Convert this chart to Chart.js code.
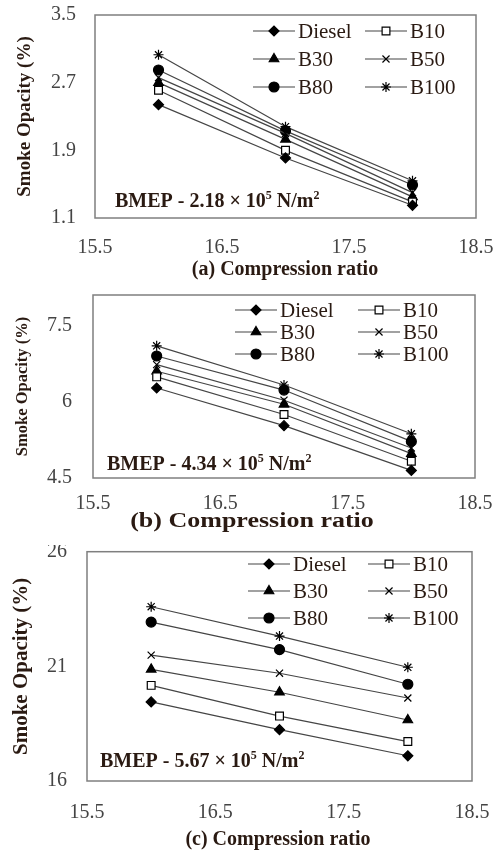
<!DOCTYPE html>
<html>
<head>
<meta charset="utf-8">
<script src="https://cdn.jsdelivr.net/npm/chart.js@4/dist/chart.umd.min.js"></script>
<style>
  body { margin: 0; background: #fff; }
  .panel { position: absolute; left: 0; width: 493px; }
  canvas { display: block; }
</style>
</head>
<body>
<div class="panel" style="top:0px"><canvas id="chart-a" width="493" height="285"></canvas></div>
<div class="panel" style="top:285px"><canvas id="chart-b" width="493" height="260"></canvas></div>
<div class="panel" style="top:545px"><canvas id="chart-c" width="493" height="306"></canvas></div>
<script>

// compression ratios tested
const compressionRatio = [16, 17, 18];
const seriesNames = ['Diesel', 'B10', 'B30', 'B50', 'B80', 'B100'];
const xTicks = [15.5, 16.5, 17.5, 18.5];

// smoke opacity (%), one row per fuel
const opacityA = [
   [2.44, 1.81, 1.25],  // Diesel
   [2.61, 1.90, 1.29],  // B10
   [2.70, 2.03, 1.35],  // B30
   [2.76, 2.10, 1.40],  // B50
   [2.85, 2.13, 1.49],  // B80
   [3.03, 2.18, 1.54]   // B100
];
const opacityB = [
   [6.27, 5.53, 4.65],
   [6.49, 5.75, 4.83],
   [6.60, 5.95, 4.98],
   [6.73, 6.03, 5.09],
   [6.90, 6.23, 5.22],
   [7.10, 6.33, 5.37]
];
const opacityC = [
   [19.45, 18.24, 17.10],
   [20.17, 18.83, 17.72],
   [20.87, 19.87, 18.66],
   [21.49, 20.70, 19.62],
   [22.93, 21.73, 20.22],
   [23.60, 22.32, 20.96]
];

const yTicksA = [1.1, 1.9, 2.7, 3.5];
const yTicksB = [4.5, 6, 7.5];
const yTicksC = [16, 21, 26];

const bmepValues = ['2.18', '4.34', '5.67'];
const xTitles = ['(a) Compression ratio', '(b) Compression ratio', '(c) Compression ratio'];
const yTitle = 'Smoke Opacity (%)';

const markers = [
   { style: 'rectRot', radius: 5, fill: '#000' },
   { style: 'rect', radius: 5.5, fill: '#fff' },
   { style: 'triangle', radius: 5.5, fill: '#000' },
   { style: 'crossRot', radius: 5, fill: '#000' },
   { style: 'circle', radius: 5, fill: '#000' },
   { style: 'star', radius: 5, fill: '#000' }
];

const textColor = '#2a1a12';
const tickColor = '#444';
const serif = '"Liberation Serif", "DejaVu Serif", serif';

// box round the plot area
const framePlugin = {
   id: 'frame',
   beforeDatasetsDraw(chart) {
      const a = chart.chartArea;
      const ctx = chart.ctx;
      ctx.save();
      ctx.strokeStyle = '#7f7f7f';
      ctx.lineWidth = 1.5;
      ctx.strokeRect(a.left, a.top, a.right - a.left, a.bottom - a.top);
      ctx.restore();
   }
};

// two-column legend inside the plot
const gridLegend = {
   id: 'gridLegend',
   afterDraw(chart, args, o) {
      const ctx = chart.ctx;
      ctx.save();
      chart.data.datasets.forEach((ds, i) => {
         const x0 = (i % 2) ? o.x2 : o.x1;
         const y = o.y0 + Math.floor(i / 2) * o.dy;
         ctx.strokeStyle = ds.borderColor;
         ctx.lineWidth = ds.borderWidth;
         ctx.beginPath();
         ctx.moveTo(x0, y);
         ctx.lineTo(x0 + o.len, y);
         ctx.stroke();
         ctx.fillStyle = ds.pointBackgroundColor;
         ctx.strokeStyle = ds.pointBorderColor;
         ctx.lineWidth = ds.pointBorderWidth;
         Chart.helpers.drawPoint(ctx, {
            pointStyle: ds.pointStyle, radius: ds.pointRadius, rotation: 0, borderWidth: ds.pointBorderWidth
         }, x0 + o.len / 2, y);
         ctx.fillStyle = textColor;
         ctx.font = 'normal ' + o.size + 'px ' + serif;
         ctx.textAlign = 'left';
         ctx.textBaseline = 'middle';
         ctx.fillText(ds.label, x0 + o.len + 3, y + 1);
      });
      ctx.restore();
   }
};

// "BMEP - x × 10^5 N/m^2" note
const bmepNote = {
   id: 'bmepNote',
   afterDraw(chart, args, o) {
      const ctx = chart.ctx;
      const s = o.size;
      const base = o.y + s * 0.33;
      const parts = [
         ['BMEP - ' + o.value + ' \u00d7 10', false],
         ['5', true],
         [' N/m', false],
         ['2', true]
      ];
      ctx.save();
      ctx.fillStyle = textColor;
      ctx.textAlign = 'left';
      ctx.textBaseline = 'alphabetic';
      let x = o.x;
      parts.forEach(([t, sup]) => {
         ctx.font = 'bold ' + (sup ? s * 0.6 : s) + 'px ' + serif;
         ctx.fillText(t, x, sup ? base - s * 0.38 : base);
         x += ctx.measureText(t).width;
      });
      ctx.restore();
   }
};

// caption under the x axis, e.g. "(a) Compression ratio"
const caption = {
   id: 'caption',
   afterDraw(chart, args, o) {
      const ctx = chart.ctx;
      ctx.save();
      ctx.fillStyle = textColor;
      ctx.font = 'bold ' + o.size + 'px ' + serif;
      ctx.textAlign = 'center';
      ctx.textBaseline = 'middle';
      ctx.translate(o.x, o.y);
      ctx.scale(o.sx || 1, 1);
      ctx.fillText(o.text, 0, 0);
      ctx.restore();
   }
};

function makePanel(canvasId, rows, yTicks, yMin, yMax, p) {
   const H = document.getElementById(canvasId).height;
   const datasets = rows.map((vals, i) => ({
      label: seriesNames[i],
      data: compressionRatio.map((x, j) => ({ x: x, y: vals[j] })),
      borderColor: '#454545',
      borderWidth: 1.2,
      pointStyle: markers[i].style,
      pointRadius: markers[i].radius,
      pointBackgroundColor: markers[i].fill,
      pointBorderColor: '#000',
      pointBorderWidth: 1.2,
      tension: 0
   }));

   return new Chart(document.getElementById(canvasId), {
      type: 'line',
      data: { datasets: datasets },
      options: {
         responsive: false,
         animation: false,
         layout: { padding: { left: 0, top: p.area.top, right: 493 - p.area.right, bottom: 0 } },
         scales: {
            x: {
               type: 'linear',
               min: 15.5,
               max: 18.5,
               afterBuildTicks: (scale) => { scale.ticks = xTicks.map(v => ({ value: v })); },
               afterFit: (scale) => {
                  scale.height = H - p.area.bottom;
                  scale.paddingLeft = 0;
                  scale.paddingRight = 0;
               },
               grid: { display: false, drawTicks: false },
               border: { display: false },
               ticks: {
                  padding: p.xTickPad,
                  color: tickColor,
                  font: { family: serif, size: 20, weight: 'normal' },
                  maxRotation: 0,
                  callback: (v) => v.toFixed(1)
               }
            },
            y: {
               min: yMin,
               max: yMax,
               afterBuildTicks: (scale) => { scale.ticks = yTicks.map(v => ({ value: v })); },
               afterFit: (scale) => {
                  scale.width = p.area.left;
                  scale.paddingTop = 0;
                  scale.paddingBottom = 0;
               },
               grid: { display: false, drawTicks: false },
               border: { display: false },
               ticks: {
                  padding: p.yTickPad,
                  color: tickColor,
                  font: { family: serif, size: 20, weight: 'normal' },
                  callback: (v) => String(v)
               },
               title: {
                  display: true,
                  text: yTitle,
                  color: textColor,
                  font: { family: serif, size: p.yTitleSize, weight: 'bold', lineHeight: 1.2 },
                  padding: { top: p.yTitlePad, bottom: 0 }
               }
            }
         },
         plugins: {
            legend: { display: false },
            tooltip: { enabled: false },
            gridLegend: p.legend,
            bmepNote: p.note,
            caption: p.caption
         }
      },
      plugins: [framePlugin, gridLegend, bmepNote, caption]
   });
}

makePanel('chart-a', opacityA, yTicksA, 1.1, 3.5, {
   area: { left: 95, right: 476, top: 15, bottom: 218 },
   xTickPad: 18,
   yTickPad: 19, yTitleSize: 19, yTitlePad: 14,
   legend: { x1: 253, x2: 365, y0: 31, dy: 28, len: 42, size: 21 },
   note: { x: 115, y: 200, size: 20, value: bmepValues[0] },
   caption: { text: xTitles[0], x: 285, y: 270, size: 20 }
});

makePanel('chart-b', opacityB, yTicksB, 4.5, 8.1, {
   area: { left: 93, right: 475, top: 10, bottom: 193 },
   xTickPad: 14,
   yTickPad: 21, yTitleSize: 16.5, yTitlePad: 13,
   legend: { x1: 235, x2: 358, y0: 25, dy: 22, len: 42, size: 21 },
   note: { x: 107, y: 178, size: 20, value: bmepValues[1] },
   caption: { text: xTitles[1], x: 252, y: 237, size: 20, sx: 1.3 }
});

makePanel('chart-c', opacityC, yTicksC, 16, 26, {
   area: { left: 87, right: 472, top: 6, bottom: 236 },
   xTickPad: 20,
   yTickPad: 20, yTitleSize: 21, yTitlePad: 9,
   legend: { x1: 248, x2: 368, y0: 19, dy: 27, len: 42, size: 21 },
   note: { x: 100, y: 215, size: 20, value: bmepValues[2] },
   caption: { text: xTitles[2], x: 278, y: 295, size: 20 }
});
</script>
</body>
</html>
